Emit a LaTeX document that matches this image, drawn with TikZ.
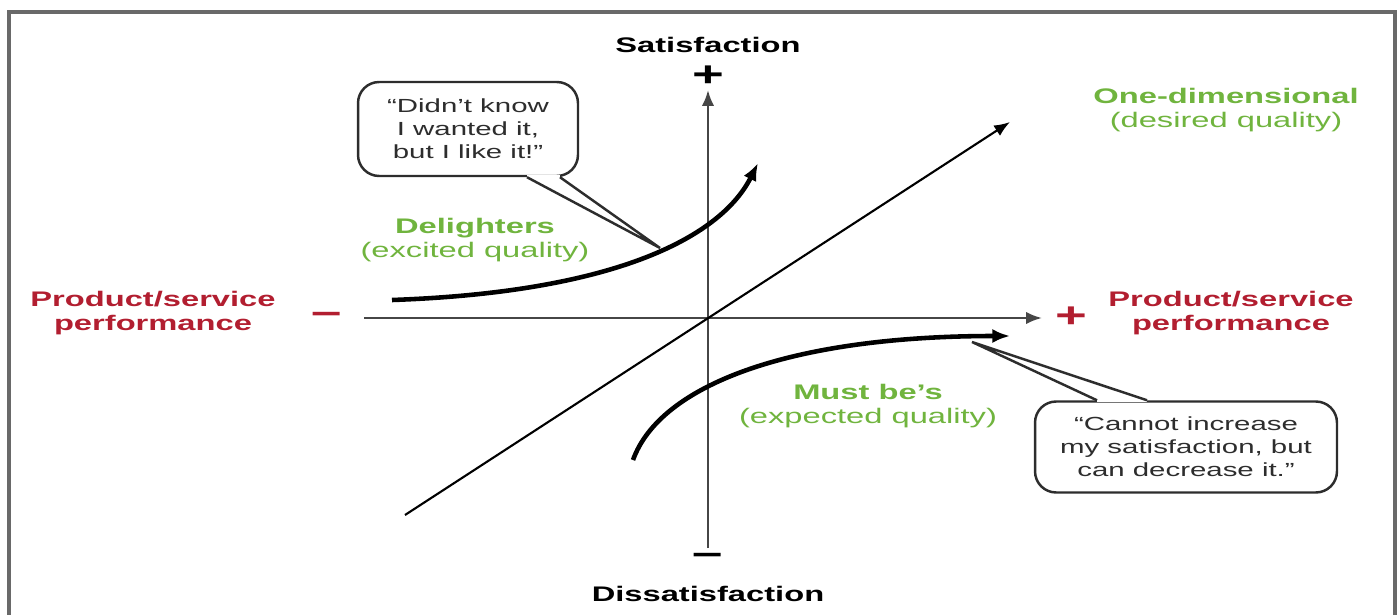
\documentclass[tikz,border=0pt]{standalone}
\usepackage{fontspec}
\setmainfont{Liberation Sans}
\usetikzlibrary{arrows.meta,calc}

\definecolor{perfred}{RGB}{178,30,48}
\definecolor{kanogreen}{RGB}{112,180,62}
\definecolor{axisgray}{RGB}{70,70,70}
\definecolor{quotegray}{RGB}{45,45,45}
\definecolor{framegray}{RGB}{105,105,105}
\newcommand{\wide}[1]{\scalebox{1.55}[1]{#1}}

\begin{document}
\begin{tikzpicture}[x=0.02cm, y=-0.02cm,
    axis/.style={draw=axisgray, line width=1.4pt, -{Latex[length=9pt,width=7pt]}},
    curve/.style={line width=2.6pt, -{Latex[length=10pt,width=8pt]}},
    label/.style={font=\fontsize{12}{14}\selectfont, align=center, inner sep=0pt},
    sign/.style={font=\fontsize{20}{20}\selectfont\bfseries, inner sep=0pt},
    bubble/.style={draw=quotegray, line width=1.4pt, rounded corners=12pt, fill=white,
        align=center, text=quotegray, font=\fontsize{10.8}{13}\selectfont,
        minimum width=4.4cm, minimum height=1.88cm, inner sep=0pt},
    pointer/.style={draw=quotegray, line width=1.4pt}
]
    \useasboundingbox (0,0) rectangle (1400,615);

    % Frame around the picture
    \draw[framegray, line width=2.4pt] (9,615) -- (9,12) -- (1395,12) -- (1395,615);

    % Define the points of the axes
    \coordinate (xstart) at (364,318);
    \coordinate (xend) at (1042,318);
    \coordinate (ystart) at (708,548);
    \coordinate (yend) at (708,90);
    \coordinate (dstart) at (405,515);
    \coordinate (dend) at (1010,122);

    % Draw the axes and the diagonal
    \draw[axis] (xstart) -- (xend);
    \draw[axis] (ystart) -- (yend);
    \draw[line width=1.2pt, -{Latex[length=9pt,width=7pt]}] (dstart) -- (dend);

    % Axis labels
    \node[label, font=\fontsize{12}{14}\selectfont\bfseries] (sat) at (708,45) {\wide{Satisfaction}};
    \node[label, font=\fontsize{12}{14}\selectfont\bfseries] (dis) at (708,594) {\wide{Dissatisfaction}};
    \node[sign] (splus) at (708,76) {\wide{+}};
    \node[sign] (sminus) at (708,559) {\wide{\textendash}};
    \node[sign, text=perfred] (pminus) at (327,318) {\wide{\textendash}};
    \node[sign, text=perfred] (pplus) at (1071,317) {\wide{+}};
    \node[label, text=perfred, font=\fontsize{12}{14}\selectfont\bfseries] (pleft) at (153,313)
        {\wide{Product/service}\\\wide{performance}};
    \node[label, text=perfred, font=\fontsize{12}{14}\selectfont\bfseries] (pright) at (1231,313)
        {\wide{Product/service}\\\wide{performance}};

    % Draw the Kano curves
    \coordinate (del1) at (392,300);
    \coordinate (del2) at (758,163);
    \coordinate (must1) at (633,460);
    \coordinate (must2) at (1010,336);
    \draw[curve] (del1) .. controls (620,292) and (722,235) .. (del2);
    \draw[curve] (must1) .. controls (660,385) and (790,336) .. (must2);

    % Curve names
    \node[label, text=kanogreen] (onedim) at (1226,110)
        {\textbf{\wide{One-dimensional}}\\\wide{(desired quality)}};
    \node[label, text=kanogreen] (delight) at (475,240)
        {\textbf{\wide{Delighters}}\\\wide{(excited quality)}};
    \node[label, text=kanogreen] (mustbe) at (868,406)
        {\textbf{\wide{Must be's}}\\\wide{(expected quality)}};

    % Speech bubbles
    \node[bubble] (know) at (468,129)
        {\wide{“Didn’t know}\\\wide{I wanted it,}\\\wide{but I like it!”}};
    \coordinate (knowtip) at (660,248);
    \fill[white] ($(know.south)+(59,-2)$) rectangle ($(know.south)+(92,2)$);
    \draw[pointer] ($(know.south)+(59,0)$) -- (knowtip) -- ($(know.south)+(92,0)$);

    \node[bubble, minimum width=6.04cm, minimum height=1.82cm] (cannot) at (1186,447)
        {\wide{“Cannot increase}\\\wide{my satisfaction, but}\\\wide{can decrease it.”}};
    \coordinate (cannottip) at (972,342);
    \fill[white] ($(cannot.north)+(-89,-2)$) rectangle ($(cannot.north)+(-39,2)$);
    \draw[pointer] ($(cannot.north)+(-89,0)$) -- (cannottip) -- ($(cannot.north)+(-39,0)$);
\end{tikzpicture}
\end{document}
